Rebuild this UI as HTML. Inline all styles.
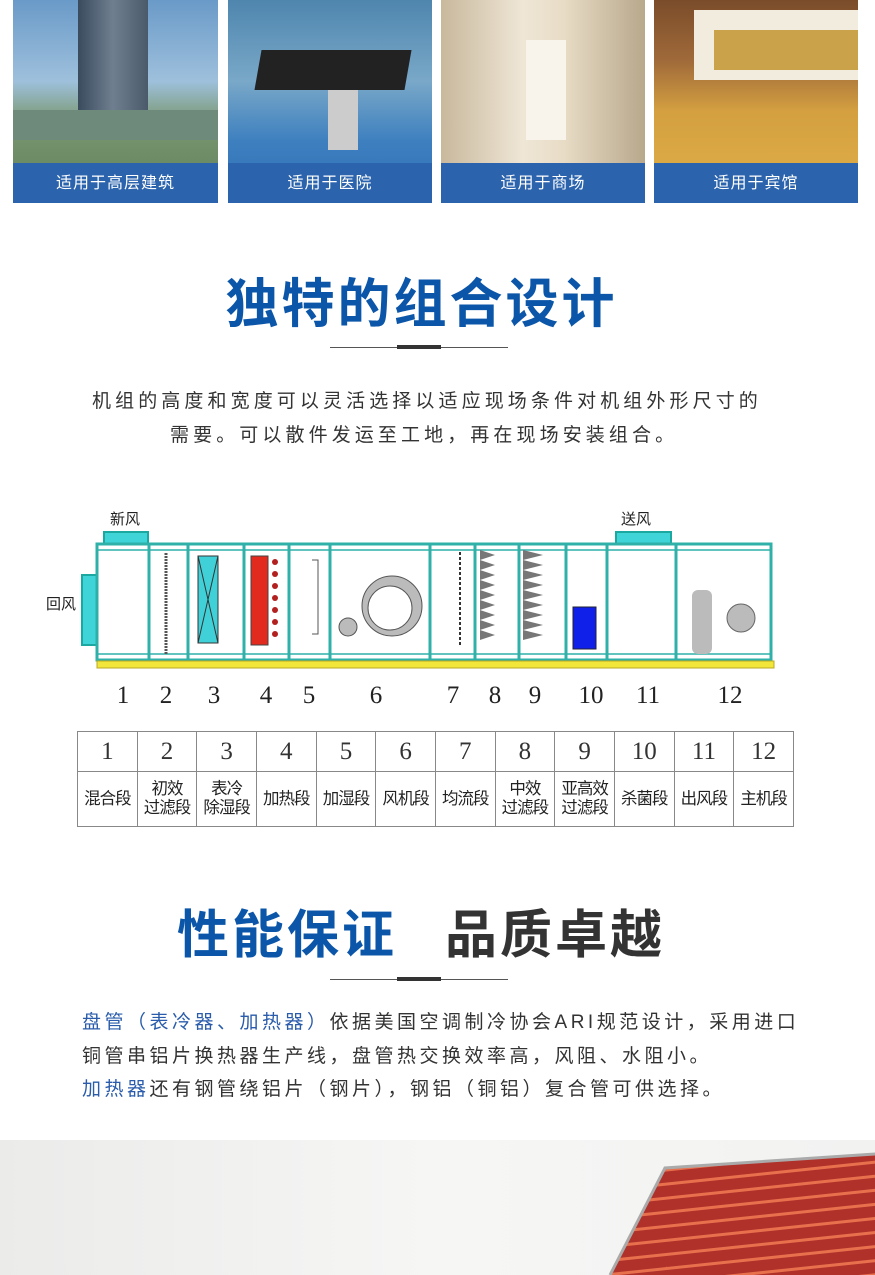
<!DOCTYPE html>
<html><head><meta charset="utf-8">
<style>
*{margin:0;padding:0;box-sizing:border-box}
body{width:875px;height:1275px;background:#fff;position:relative;overflow:hidden;font-family:"Liberation Sans","Noto Sans CJK SC",sans-serif;color:#333}
.ab{position:absolute}
.ph{position:absolute;top:0;height:203px;overflow:hidden}
.cap{position:absolute;left:0;right:0;bottom:0;height:40px;background:#2b63ad;color:#fff;font-size:16px;text-align:center;line-height:42px;letter-spacing:1px}
.title{position:absolute;left:0;width:875px;text-align:center;font-weight:bold;font-size:53px;color:#0b56a8;letter-spacing:3px}
.ln{position:absolute;height:1px;background:#555}
.lt{position:absolute;height:4px;background:#333}
.p{position:absolute;font-size:19px;color:#333;white-space:nowrap;letter-spacing:4.1px}
.p2{letter-spacing:3.5px}
table{position:absolute;left:77px;top:731px;border-collapse:collapse;width:717px}
td{border:1px solid #888;text-align:center;width:59.75px;padding:0}
tr.n td{height:40px;font-family:"Liberation Serif",serif;font-size:25px}
tr.t td{height:55px;font-size:16.5px;line-height:19px;color:#222;letter-spacing:-1px}
.b{color:#2a5cab}
</style></head><body>

<div class="ph" style="left:13px;width:205px;background:linear-gradient(#6a9ac8 0,#9ec0dc 40%,#7a9870 60%,#5e7f5c 100%)">
 <div class="ab" style="left:65px;top:0;width:70px;height:140px;background:linear-gradient(90deg,#3a4b5e,#6f7f90,#4a5a6a)"></div>
 <div class="ab" style="left:0;top:110px;width:205px;height:30px;background:#6d8a7a"></div>
 <div class="cap">适用于高层建筑</div></div>
<div class="ph" style="left:228px;width:204px;background:linear-gradient(#4f86ae,#79a8c8 40%,#3d7fbf 70%,#2f6fb5)">
 <div class="ab" style="left:30px;top:50px;width:150px;height:40px;background:#222;transform:skewX(-10deg)"></div>
 <div class="ab" style="left:100px;top:90px;width:30px;height:60px;background:#ccc"></div>
 <div class="cap">适用于医院</div></div>
<div class="ph" style="left:441px;width:204px;background:linear-gradient(90deg,#c8b89c,#efe6d6 40%,#e8dcc6 60%,#b8a88c)">
 <div class="ab" style="left:85px;top:40px;width:40px;height:100px;background:#f8f4ec"></div>
 <div class="cap">适用于商场</div></div>
<div class="ph" style="left:654px;width:204px;background:linear-gradient(#7a4c2a,#a06a3a 30%,#d4a040 55%,#e0b048)">
 <div class="ab" style="left:40px;top:10px;width:164px;height:70px;background:#f2ecdf"></div>
 <div class="ab" style="left:60px;top:30px;width:144px;height:40px;background:#c9a24a"></div>
 <div class="cap">适用于宾馆</div></div>

<div class="title" style="top:262px;padding-right:32px">独特的组合设计</div>
<div class="ln" style="left:330px;top:347px;width:178px"></div>
<div class="lt" style="left:397px;top:345px;width:44px"></div>
<div class="p" style="left:92px;top:386px">机组的高度和宽度可以灵活选择以适应现场条件对机组外形尺寸的</div>
<div class="p" style="left:170px;top:420px">需要。可以散件发运至工地，再在现场安装组合。</div>

<svg class="ab" style="left:0;top:500px" width="875" height="220" viewBox="0 500 875 220">
 <g font-size="15" fill="#222" font-family="Liberation Sans,Noto Sans CJK SC,sans-serif">
  <text x="110" y="524">新风</text><text x="621" y="524">送风</text><text x="46" y="609">回风</text>
 </g>
 <g stroke="#1aa8a0" stroke-width="2" fill="#3fd4d8">
  <rect x="104" y="532" width="44" height="12"/><rect x="616" y="532" width="55" height="12"/>
  <rect x="82" y="575" width="15" height="70"/>
 </g>
 <rect x="97" y="544" width="674" height="116" fill="#fff" stroke="#2fb0a8" stroke-width="3"/>
 <rect x="97" y="550" width="674" height="104" fill="none" stroke="#2fb0a8" stroke-width="1.5"/>
 <g stroke="#2fb0a8" stroke-width="3">
  <line x1="149" y1="544" x2="149" y2="660"/><line x1="188" y1="544" x2="188" y2="660"/>
  <line x1="244" y1="544" x2="244" y2="660"/><line x1="289" y1="544" x2="289" y2="660"/>
  <line x1="330" y1="544" x2="330" y2="660"/><line x1="430" y1="544" x2="430" y2="660"/>
  <line x1="475" y1="544" x2="475" y2="660"/><line x1="519" y1="544" x2="519" y2="660"/>
  <line x1="566" y1="544" x2="566" y2="660"/><line x1="607" y1="544" x2="607" y2="660"/>
  <line x1="676" y1="544" x2="676" y2="660"/>
 </g>
 <rect x="97" y="661" width="677" height="7" fill="#f2e63a" stroke="#b8a820"/>
 <line x1="166" y1="553" x2="166" y2="655" stroke="#555" stroke-width="3" stroke-dasharray="2 1"/>
 <rect x="198" y="556" width="20" height="87" fill="#40d0d8" stroke="#333"/>
 <path d="M198 556L218 643M218 556L198 643" stroke="#333"/>
 <rect x="251" y="556" width="17" height="89" fill="#e32a1e" stroke="#444"/>
 <g fill="#b32020"><circle cx="275" cy="562" r="3"/><circle cx="275" cy="574" r="3"/><circle cx="275" cy="586" r="3"/><circle cx="275" cy="598" r="3"/><circle cx="275" cy="610" r="3"/><circle cx="275" cy="622" r="3"/><circle cx="275" cy="634" r="3"/></g>
 <path d="M312 560h6v74h-6" fill="none" stroke="#555"/>
 <circle cx="392" cy="606" r="30" fill="#bbb" stroke="#555"/>
 <circle cx="390" cy="608" r="22" fill="#fff" stroke="#555"/>
 <circle cx="348" cy="627" r="9" fill="#bbb" stroke="#555"/>
 <line x1="460" y1="552" x2="460" y2="645" stroke="#333" stroke-width="2" stroke-dasharray="3 2"/>
 <path d="M480 550l15 5-15 5 15 5-15 5 15 5-15 5 15 5-15 5 15 5-15 5 15 5-15 5 15 5-15 5 15 5-15 5 15 5-15 5z" fill="#777"/>
 <path d="M523 550l20 5-20 5 20 5-20 5 20 5-20 5 20 5-20 5 20 5-20 5 20 5-20 5 20 5-20 5 20 5-20 5 20 5-20 5z" fill="#777"/>
 <rect x="573" y="607" width="23" height="42" fill="#1020e8" stroke="#223"/>
 <rect x="692" y="590" width="20" height="64" rx="6" fill="#bbb"/>
 <circle cx="741" cy="618" r="14" fill="#bbb" stroke="#666"/>
 <g font-family="Liberation Serif,serif" font-size="25" fill="#222" text-anchor="middle">
  <text x="123" y="703">1</text><text x="166" y="703">2</text><text x="214" y="703">3</text><text x="266" y="703">4</text><text x="309" y="703">5</text><text x="376" y="703">6</text><text x="453" y="703">7</text><text x="495" y="703">8</text><text x="535" y="703">9</text><text x="591" y="703">10</text><text x="648" y="703">11</text><text x="730" y="703">12</text>
 </g>
</svg>

<table>
<tr class="n"><td>1</td><td>2</td><td>3</td><td>4</td><td>5</td><td>6</td><td>7</td><td>8</td><td>9</td><td>10</td><td>11</td><td>12</td></tr>
<tr class="t"><td>混合段</td><td>初效<br>过滤段</td><td>表冷<br>除湿段</td><td>加热段</td><td>加湿段</td><td>风机段</td><td>均流段</td><td>中效<br>过滤段</td><td>亚高效<br>过滤段</td><td>杀菌段</td><td>出风段</td><td>主机段</td></tr>
</table>

<div class="ab" style="left:177px;top:893px;font-size:52px;font-weight:bold;color:#0b56a8;letter-spacing:3px">性能保证</div>
<div class="ab" style="left:445px;top:893px;font-size:52px;font-weight:bold;color:#333;letter-spacing:3px">品质卓越</div>
<div class="ln" style="left:330px;top:979px;width:178px"></div>
<div class="lt" style="left:397px;top:977px;width:44px"></div>
<div class="p p2" style="left:82px;top:1007px"><span class="b">盘管（表冷器、加热器）</span>依据美国空调制冷协会ARI规范设计，采用进口</div>
<div class="p p2" style="left:82px;top:1041px">铜管串铝片换热器生产线，盘管热交换效率高，风阻、水阻小。</div>
<div class="p p2" style="left:82px;top:1074px"><span class="b">加热器</span>还有钢管绕铝片（钢片），钢铝（铜铝）复合管可供选择。</div>

<div class="ab" style="left:0;top:1140px;width:875px;height:135px;background:linear-gradient(90deg,#ebebea,#f6f6f5 50%,#f2f2f1)"></div>
<svg class="ab" style="left:0;top:1140px" width="875" height="135">
 <defs><pattern id="fin" width="10" height="14" patternUnits="userSpaceOnUse" patternTransform="rotate(-6)"><rect width="10" height="14" fill="#b0302a"/><rect y="0" width="10" height="3" fill="#e8704c"/></pattern></defs>
 <polygon points="665,28 875,14 875,135 610,135" fill="url(#fin)"/>
 <polyline points="610,135 665,28 875,14" fill="none" stroke="#aaa" stroke-width="3"/>
</svg>
</body></html>
